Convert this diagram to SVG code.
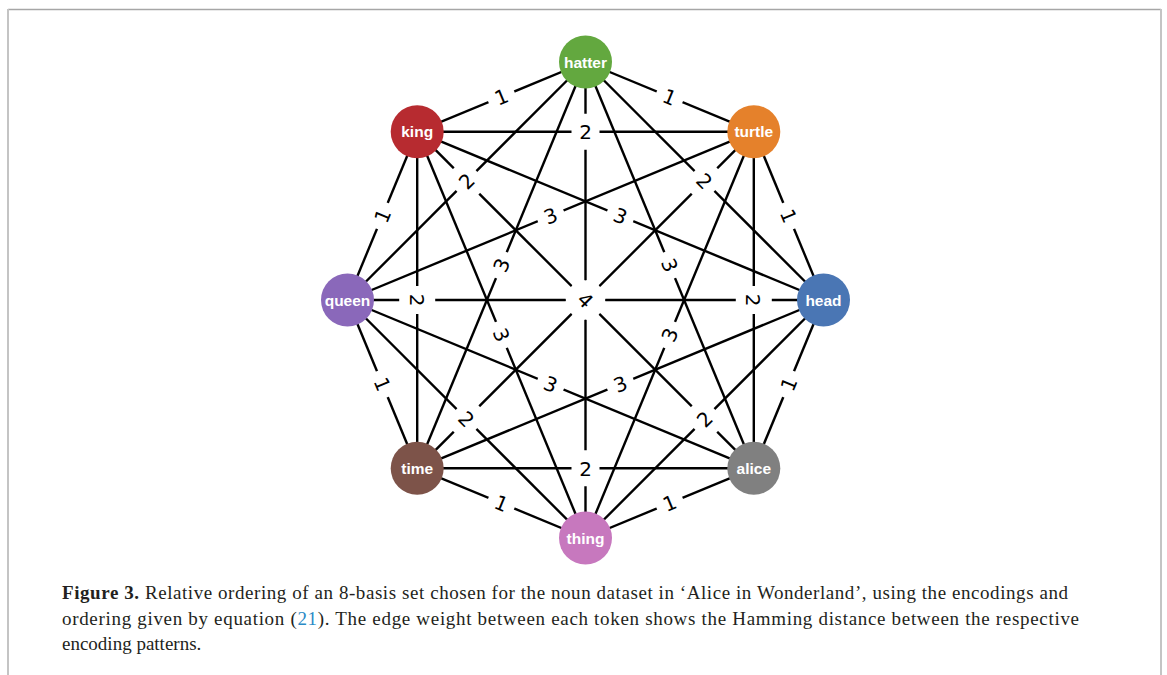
<svg xmlns="http://www.w3.org/2000/svg" width="1167" height="675" viewBox="0 0 1167 675">
<style>
.edge{stroke:#000;stroke-width:2.4;fill:none}
.lbox{fill:#fff}
.elab{font-family:"DejaVu Sans",sans-serif;font-size:20px;text-anchor:middle;fill:#000}
.nlab{font-family:"Liberation Sans",Arial,sans-serif;font-weight:bold;font-size:15.5px;text-anchor:middle;fill:#fff}
.cap{font-family:"Liberation Serif","Times New Roman",serif;font-size:19px;fill:#231f20}
</style>
<defs>
<g id="box"><rect class="lbox" x="-14" y="-18" width="28" height="36" rx="6"/></g>
</defs>
<rect x="0" y="0" width="1167" height="675" fill="#fff"/>
<g id="frame">
<line x1="8" y1="9.5" x2="1161" y2="9.5" stroke="#a6a6a6" stroke-width="1.5"/>
<line x1="8" y1="9" x2="8" y2="675" stroke="#c4c4c4" stroke-width="2"/>
<line x1="1161" y1="9" x2="1161" y2="675" stroke="#c4c4c4" stroke-width="2"/>
</g>
<g id="connectors">
<line class="edge" x1="823.5" y1="300" x2="753.8" y2="131.7"/>
<line class="edge" x1="823.5" y1="300" x2="585.5" y2="62"/>
<line class="edge" x1="823.5" y1="300" x2="417.2" y2="131.7"/>
<line class="edge" x1="823.5" y1="300" x2="347.5" y2="300"/>
<line class="edge" x1="823.5" y1="300" x2="417.2" y2="468.3"/>
<line class="edge" x1="823.5" y1="300" x2="585.5" y2="538"/>
<line class="edge" x1="823.5" y1="300" x2="753.8" y2="468.3"/>
<line class="edge" x1="753.8" y1="131.7" x2="585.5" y2="62"/>
<line class="edge" x1="753.8" y1="131.7" x2="417.2" y2="131.7"/>
<line class="edge" x1="753.8" y1="131.7" x2="347.5" y2="300"/>
<line class="edge" x1="753.8" y1="131.7" x2="417.2" y2="468.3"/>
<line class="edge" x1="753.8" y1="131.7" x2="585.5" y2="538"/>
<line class="edge" x1="753.8" y1="131.7" x2="753.8" y2="468.3"/>
<line class="edge" x1="585.5" y1="62" x2="417.2" y2="131.7"/>
<line class="edge" x1="585.5" y1="62" x2="347.5" y2="300"/>
<line class="edge" x1="585.5" y1="62" x2="417.2" y2="468.3"/>
<line class="edge" x1="585.5" y1="62" x2="585.5" y2="538"/>
<line class="edge" x1="585.5" y1="62" x2="753.8" y2="468.3"/>
<line class="edge" x1="417.2" y1="131.7" x2="347.5" y2="300"/>
<line class="edge" x1="417.2" y1="131.7" x2="417.2" y2="468.3"/>
<line class="edge" x1="417.2" y1="131.7" x2="585.5" y2="538"/>
<line class="edge" x1="417.2" y1="131.7" x2="753.8" y2="468.3"/>
<line class="edge" x1="347.5" y1="300" x2="417.2" y2="468.3"/>
<line class="edge" x1="347.5" y1="300" x2="585.5" y2="538"/>
<line class="edge" x1="347.5" y1="300" x2="753.8" y2="468.3"/>
<line class="edge" x1="417.2" y1="468.3" x2="585.5" y2="538"/>
<line class="edge" x1="417.2" y1="468.3" x2="753.8" y2="468.3"/>
<line class="edge" x1="585.5" y1="538" x2="753.8" y2="468.3"/>
<g id="edge-labels">
<g transform="translate(788.65,215.85) rotate(67.5)"><use href="#box"/><text class="elab" y="7.3">1</text></g>
<g transform="translate(704.5,181) rotate(45)"><use href="#box"/><text class="elab" y="7.3">2</text></g>
<g transform="translate(620.35,215.85) rotate(22.5)"><use href="#box"/><text class="elab" y="7.3">3</text></g>
<g transform="translate(585.5,300) rotate(0)"><use href="#box"/><text class="elab" y="7.3">4</text></g>
<g transform="translate(620.35,384.15) rotate(-22.5)"><use href="#box"/><text class="elab" y="7.3">3</text></g>
<g transform="translate(704.5,419) rotate(-45)"><use href="#box"/><text class="elab" y="7.3">2</text></g>
<g transform="translate(788.65,384.15) rotate(-67.5)"><use href="#box"/><text class="elab" y="7.3">1</text></g>
<g transform="translate(669.65,96.85) rotate(22.5)"><use href="#box"/><text class="elab" y="7.3">1</text></g>
<g transform="translate(585.5,131.7) rotate(0)"><use href="#box"/><text class="elab" y="7.3">2</text></g>
<g transform="translate(550.65,215.85) rotate(-22.5)"><use href="#box"/><text class="elab" y="7.3">3</text></g>
<g transform="translate(585.5,300) rotate(-45)"><use href="#box"/><text class="elab" y="7.3">4</text></g>
<g transform="translate(669.65,334.85) rotate(-67.5)"><use href="#box"/><text class="elab" y="7.3">3</text></g>
<g transform="translate(753.8,300) rotate(90)"><use href="#box"/><text class="elab" y="7.3">2</text></g>
<g transform="translate(501.35,96.85) rotate(-22.5)"><use href="#box"/><text class="elab" y="7.3">1</text></g>
<g transform="translate(466.5,181) rotate(-45)"><use href="#box"/><text class="elab" y="7.3">2</text></g>
<g transform="translate(501.35,265.15) rotate(-67.5)"><use href="#box"/><text class="elab" y="7.3">3</text></g>
<g transform="translate(585.5,300) rotate(90)"><use href="#box"/><text class="elab" y="7.3">4</text></g>
<g transform="translate(669.65,265.15) rotate(67.5)"><use href="#box"/><text class="elab" y="7.3">3</text></g>
<g transform="translate(382.35,215.85) rotate(-67.5)"><use href="#box"/><text class="elab" y="7.3">1</text></g>
<g transform="translate(417.2,300) rotate(90)"><use href="#box"/><text class="elab" y="7.3">2</text></g>
<g transform="translate(501.35,334.85) rotate(67.5)"><use href="#box"/><text class="elab" y="7.3">3</text></g>
<g transform="translate(585.5,300) rotate(45)"><use href="#box"/><text class="elab" y="7.3">4</text></g>
<g transform="translate(382.35,384.15) rotate(67.5)"><use href="#box"/><text class="elab" y="7.3">1</text></g>
<g transform="translate(466.5,419) rotate(45)"><use href="#box"/><text class="elab" y="7.3">2</text></g>
<g transform="translate(550.65,384.15) rotate(22.5)"><use href="#box"/><text class="elab" y="7.3">3</text></g>
<g transform="translate(501.35,503.15) rotate(22.5)"><use href="#box"/><text class="elab" y="7.3">1</text></g>
<g transform="translate(585.5,468.3) rotate(0)"><use href="#box"/><text class="elab" y="7.3">2</text></g>
<g transform="translate(669.65,503.15) rotate(-22.5)"><use href="#box"/><text class="elab" y="7.3">1</text></g>
</g>
</g>
<g id="node-head"><circle cx="823.5" cy="300" r="26.5" fill="#4a76b4"/><text class="nlab" x="823.5" y="305.5">head</text></g>
<g id="node-turtle"><circle cx="753.8" cy="131.7" r="26.5" fill="#e5812b"/><text class="nlab" x="753.8" y="137.2">turtle</text></g>
<g id="node-hatter"><circle cx="585.5" cy="62" r="26.5" fill="#63a83f"/><text class="nlab" x="585.5" y="67.5">hatter</text></g>
<g id="node-king"><circle cx="417.2" cy="131.7" r="26.5" fill="#b72b30"/><text class="nlab" x="417.2" y="137.2">king</text></g>
<g id="node-queen"><circle cx="347.5" cy="300" r="26.5" fill="#8a68ba"/><text class="nlab" x="347.5" y="305.5">queen</text></g>
<g id="node-time"><circle cx="417.2" cy="468.3" r="26.5" fill="#7d5349"/><text class="nlab" x="417.2" y="473.8">time</text></g>
<g id="node-thing"><circle cx="585.5" cy="538" r="26.5" fill="#c778be"/><text class="nlab" x="585.5" y="543.5">thing</text></g>
<g id="node-alice"><circle cx="753.8" cy="468.3" r="26.5" fill="#808080"/><text class="nlab" x="753.8" y="473.8">alice</text></g>
<g id="caption">
<text class="cap" x="62" y="599" textLength="1006" lengthAdjust="spacing"><tspan font-weight="bold">Figure 3.</tspan> Relative ordering of an 8-basis set chosen for the noun dataset in ‘Alice in Wonderland’, using the encodings and</text>
<text class="cap" x="62" y="624.5" textLength="1017" lengthAdjust="spacing">ordering given by equation (<tspan fill="#2a8ac5">21</tspan>). The edge weight between each token shows the Hamming distance between the respective</text>
<text class="cap" x="62" y="650">encoding patterns.</text>
</g>
</svg>
